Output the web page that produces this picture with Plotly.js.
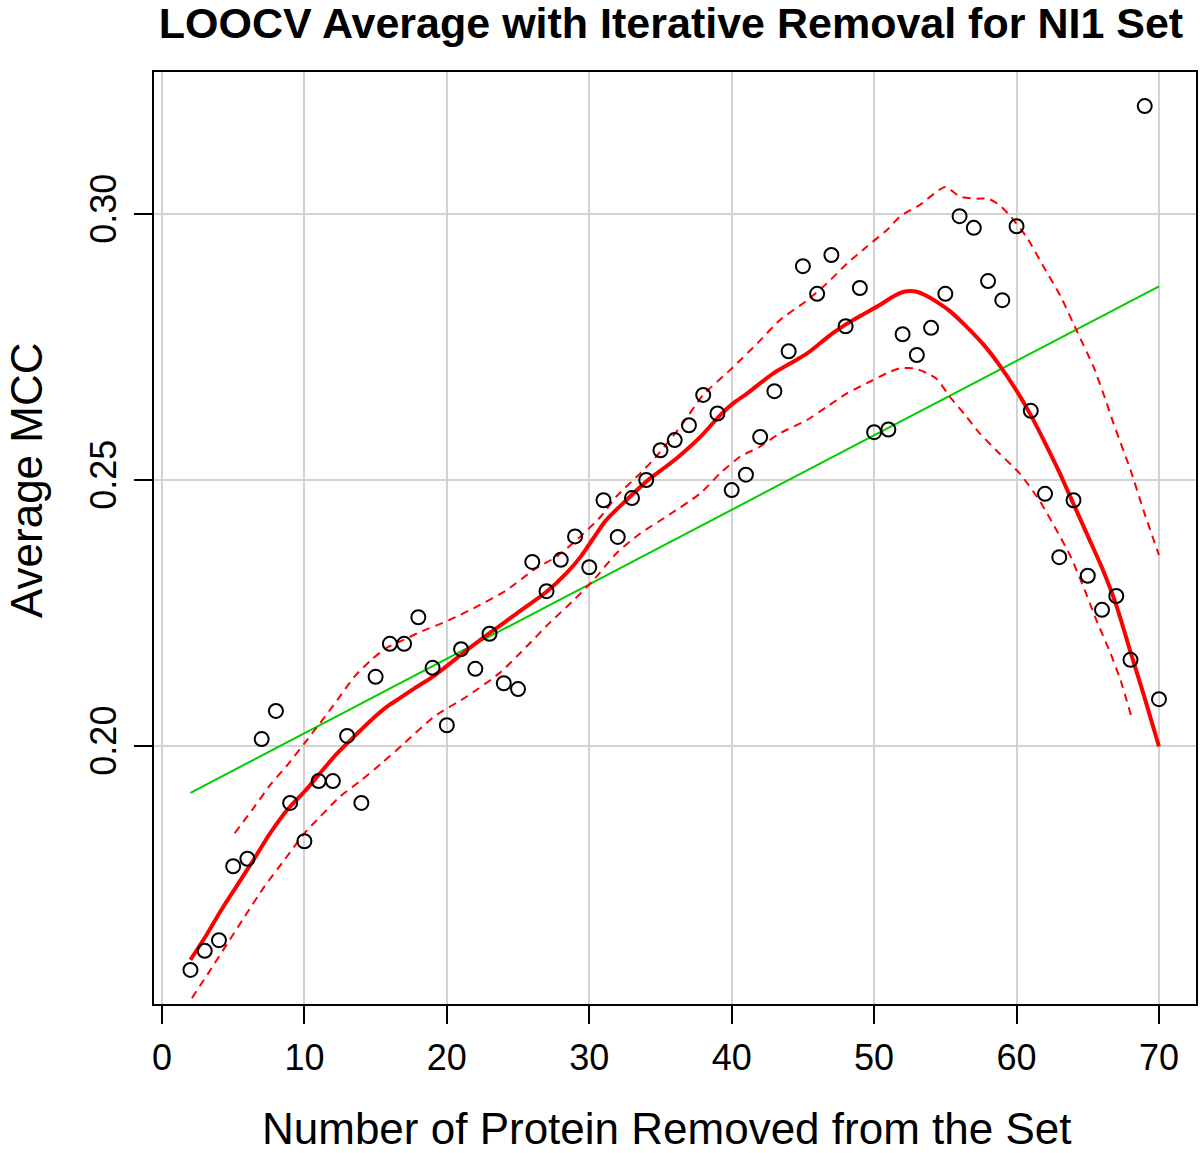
<!DOCTYPE html>
<html>
<head>
<meta charset="utf-8">
<script src="https://cdn.plot.ly/plotly-3.0.1.min.js"></script>
<style>html,body{margin:0;padding:0;background:#fff;}#chart{width:1200px;height:1153px;}</style>
</head>
<body>
<div id="chart"></div>
<script>
// ---- data ----
const titleText = "LOOCV Average with Iterative Removal for NI1 Set";
const xTitle = "Number of Protein Removed from the Set";
const yTitle = "Average MCC";

const xTicks = [0, 10, 20, 30, 40, 50, 60, 70];
const xTickLabels = ["0", "10", "20", "30", "40", "50", "60", "70"];
const yTicks = [0.20, 0.25, 0.30];
const yTickLabels = ["0.20", "0.25", "0.30"];

const removedCount = [2,3,4,5,6,7,8,9,10,11,12,13,14,15,16,17,18,19,20,21,22,23,24,25,26,27,28,29,30,31,32,33,34,35,36,37,38,39,40,41,42,43,44,45,46,47,48,49,50,51,52,53,54,55,56,57,58,59,60,61,62,63,64,65,66,67,68,69,70];
const averageMCC = [0.1579,0.1615,0.1635,0.1774,0.1788,0.2013,0.2066,0.1893,0.1821,0.1934,0.1934,0.2019,0.1893,0.2130,0.2192,0.2192,0.2242,0.2147,0.2039,0.2182,0.2145,0.2211,0.2118,0.2107,0.2346,0.2291,0.2350,0.2394,0.2336,0.2462,0.2393,0.2466,0.2500,0.2556,0.2575,0.2603,0.2660,0.2625,0.2481,0.2510,0.2581,0.2667,0.2742,0.2902,0.2850,0.2923,0.2789,0.2861,0.2590,0.2595,0.2774,0.2735,0.2786,0.2850,0.2996,0.2974,0.2874,0.2838,0.2977,0.2630,0.2474,0.2355,0.2462,0.2320,0.2256,0.2282,0.2162,0.3203,0.2088];

const fitX = [2, 70];
const fitY = [0.1912, 0.2864];

const loessX = [2,3.2,4.1,5.3,6.5,7.6,8.8,10.1,11.1,12.3,13.5,14.7,15.8,16.7,17.7,19.1,21.4,23.0,24.9,27.0,28.4,29.4,30.3,31.2,32.6,34.0,36.1,37.8,39.2,40.1,41.1,42.9,44.1,45.3,46.2,47.1,48.1,49.0,50.4,51.4,52.1,53.0,53.7,54.4,55.3,56.5,57.7,58.8,60,61,62,63,64,65,66,67,68,69,70];
const loessY = [0.1598,0.1648,0.1689,0.1739,0.1789,0.1836,0.1880,0.1917,0.1949,0.1986,0.2018,0.2049,0.2074,0.2090,0.2108,0.2132,0.2180,0.2212,0.2249,0.2290,0.2325,0.2356,0.2391,0.2425,0.2462,0.2497,0.2540,0.2581,0.2622,0.2644,0.2663,0.2700,0.2719,0.2738,0.2757,0.2776,0.2794,0.2808,0.2829,0.2846,0.2854,0.2854,0.2846,0.2835,0.2818,0.2788,0.2754,0.2716,0.2668,0.2622,0.2570,0.2515,0.2455,0.2395,0.2335,0.2265,0.2177,0.2090,0.1999];

const upperX = [5.1,6.5,7.6,8.8,10.0,11.1,12.3,13.5,14.7,15.8,17.0,18.1,20.2,22.1,24.2,26.1,27.7,29.1,30.8,31.9,33.6,34.5,36.4,38.0,39.9,41.8,43.4,45.3,46.7,48.1,49.5,50.9,51.8,53.2,55.0,56.0,57.2,58.0,58.8,59.5,60.7,61.9,63.1,64.2,65.4,66.3,66.8,68.0,68.9,70];
const upperY = [0.1836,0.1886,0.1927,0.1964,0.2005,0.2043,0.2086,0.2130,0.2162,0.2185,0.2200,0.2214,0.2237,0.2262,0.2293,0.2331,0.2356,0.2387,0.2431,0.2469,0.2513,0.2538,0.2600,0.2660,0.2707,0.2757,0.2801,0.2838,0.2870,0.2907,0.2939,0.2970,0.2995,0.3017,0.3051,0.3033,0.3029,0.3029,0.3017,0.2998,0.2957,0.2901,0.2845,0.2782,0.2713,0.2647,0.2607,0.2519,0.2444,0.2359];

const lowerX = [2.1,3.4,4.6,5.8,7.2,8.6,10.0,11.1,12.5,14.0,15.4,17.0,19.1,21.4,23.7,25.6,27.2,28.9,30.3,31.9,33.6,35.4,37.8,39.2,40.6,42.0,43.4,45.3,46.7,48.1,49.5,50.9,51.8,52.8,53.7,54.4,55.3,56.4,57.4,58.8,60.2,61.6,62.8,63.8,64.7,65.6,66.6,67.3,68.1];
const lowerY = [0.1526,0.1579,0.1629,0.1679,0.1736,0.1786,0.1836,0.1867,0.1905,0.1936,0.1967,0.2005,0.2055,0.2093,0.2137,0.2187,0.2231,0.2274,0.2312,0.2362,0.2400,0.2431,0.2475,0.2513,0.2544,0.2563,0.2588,0.2613,0.2638,0.2663,0.2682,0.2701,0.2710,0.2710,0.2701,0.2690,0.2657,0.2622,0.2588,0.2550,0.2513,0.2462,0.2406,0.2356,0.2299,0.2237,0.2174,0.2124,0.2052];

// ---- chart ----
const FONT = "Liberation Sans, Arial, Helvetica, sans-serif";

const traces = [
  {x: fitX, y: fitY, type: 'scatter', mode: 'lines', line: {color: '#00cd00', width: 2}, hoverinfo: 'skip'},
  {x: upperX, y: upperY, type: 'scatter', mode: 'lines', line: {color: '#ff0000', width: 2, dash: '8px,6px', shape: 'spline', smoothing: 0.6}},
  {x: lowerX, y: lowerY, type: 'scatter', mode: 'lines', line: {color: '#ff0000', width: 2, dash: '8px,6px', shape: 'spline', smoothing: 0.6}},
  {x: loessX, y: loessY, type: 'scatter', mode: 'lines', line: {color: '#ff0000', width: 4, shape: 'spline', smoothing: 0.8}},
  {x: removedCount, y: averageMCC, type: 'scatter', mode: 'markers',
   marker: {symbol: 'circle-open', size: 14, color: 'black', line: {color: 'black', width: 2}}}
];

const axisCommon = {
  showgrid: true, gridcolor: '#d3d3d3', gridwidth: 2,
  showline: true, mirror: true, linecolor: 'black', linewidth: 2,
  ticks: 'outside', ticklen: 18, tickwidth: 2, tickcolor: 'black',
  tickfont: {size: 36, family: FONT, color: 'black'},
  zeroline: false, tickmode: 'array'
};

const layout = {
  width: 1200, height: 1153,
  margin: {l: 154, r: 4, t: 72, b: 149, pad: 0},
  paper_bgcolor: 'white', plot_bgcolor: 'white',
  showlegend: false,
  font: {family: FONT, color: 'black'},
  title: {text: '<b>' + titleText + '</b>', font: {size: 43, family: FONT, color: 'black'},
          x: 671/1200, xref: 'container', xanchor: 'center', y: 1 - 23/1153, yref: 'container', yanchor: 'middle'},
  xaxis: Object.assign({}, axisCommon, {range: [-0.56, 72.6], tickvals: xTicks, ticktext: xTickLabels, ticklabelstandoff: 3}),
  yaxis: Object.assign({}, axisCommon, {range: [0.1515, 0.3267], tickvals: yTicks, ticktext: yTickLabels, tickangle: -90, ticklabelstandoff: 4}),
  annotations: [
    {text: xTitle, xref: 'paper', yref: 'paper', x: (666-154)/1042, y: (1004-1128)/932,
     xanchor: 'center', yanchor: 'middle', showarrow: false, font: {size: 44, family: FONT, color: 'black'}},
    {text: yTitle, xref: 'paper', yref: 'paper', x: (27-154)/1042, y: (1004-480)/932, textangle: -90,
     xanchor: 'center', yanchor: 'middle', showarrow: false, font: {size: 44, family: FONT, color: 'black'}}
  ]
};

Plotly.newPlot('chart', traces, layout, {staticPlot: true, displayModeBar: false});
</script>
</body>
</html>
